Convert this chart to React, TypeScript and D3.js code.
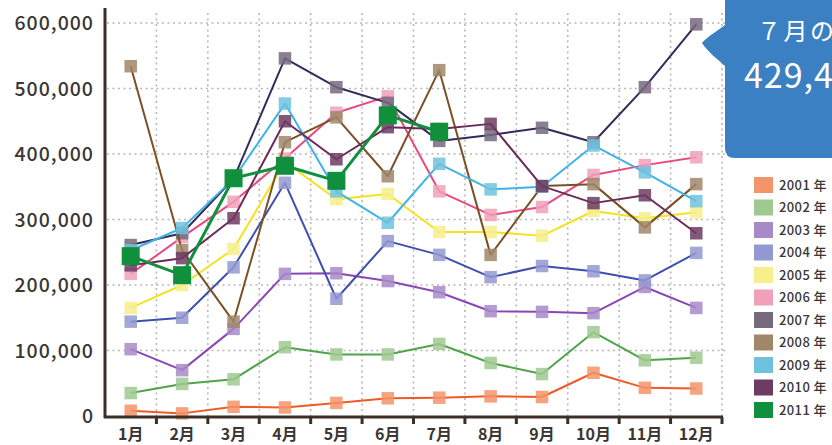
import React from 'react';
import * as d3 from 'd3';

const months = ['1月', '2月', '3月', '4月', '5月', '6月', '7月', '8月', '9月', '10月', '11月', '12月'];
const years = ['2001', '2002', '2003', '2004', '2005', '2006', '2007', '2008', '2009', '2010', '2011'];

const v2001 = [8000, 4000, 14000, 13000, 20000, 27000, 28000, 30000, 29000, 66000, 43000, 42000];
const v2002 = [35000, 49000, 56000, 105000, 94000, 94000, 110000, 81000, 64000, 128000, 85000, 89000];
const v2003 = [102000, 70000, 133000, 217000, 218000, 206000, 189000, 160000, 159000, 157000, 197000, 165000];
const v2004 = [144000, 150000, 227000, 356000, 179000, 267000, 246000, 212000, 229000, 221000, 207000, 249000];
const v2005 = [165000, 200000, 255000, 388000, 331000, 339000, 281000, 281000, 275000, 313000, 302000, 311000];
const v2006 = [217000, 273000, 327000, 393000, 463000, 488000, 343000, 307000, 319000, 368000, 383000, 395000];
const v2007 = [261000, 279000, 362000, 546000, 502000, 478000, 420000, 429000, 440000, 418000, 502000, 598000];
const v2008 = [534000, 253000, 144000, 418000, 456000, 366000, 528000, 246000, 351000, 354000, 288000, 354000];
const v2009 = [253000, 287000, 362000, 477000, 343000, 295000, 385000, 346000, 350000, 413000, 372000, 328000];
const v2010 = [230000, 241000, 302000, 450000, 392000, 441000, 438000, 446000, 351000, 325000, 337000, 279000];
const v2011 = [244000, 215000, 363000, 382000, 359000, 459000, 434000];

const yTicks = [0, 100000, 200000, 300000, 400000, 500000, 600000];
const calloutLines = ['７月の訪日外客数', '429,400人'];

const seriesValues = [v2001, v2002, v2003, v2004, v2005, v2006, v2007, v2008, v2009, v2010, v2011];

// line colour / marker colour per year
const lineColors = ['#f15a24', '#4fa44a', '#8a46b4', '#3d4fb0', '#f5e21c', '#e84a7f', '#342a5a', '#7a5126', '#3fb3e6', '#6b2b5a', '#10903d'];
const markColors = ['#f4946a', '#9fc98f', '#a78bc9', '#9399d0', '#f6ef8c', '#f0a0b8', '#756a7e', '#a0876a', '#6fc2de', '#6d3b62', '#10903d'];

const W = 832;
const H = 445;
const FONT = '"Noto Sans CJK JP", "Noto Sans", sans-serif';

export default function App() {
  const x = d3.scaleBand<string>().domain(months).range([105, 722]).padding(0);
  const y = d3.scaleLinear().domain([0, 600000]).range([416, 23]);
  const cx = (m: string) => (x(m) || 0) + x.bandwidth() / 2;
  const fmt = d3.format(',');

  const line = d3.line<number>()
    .x((_, i) => cx(months[i]))
    .y(d => y(d));

  const bounds = months.map(m => (x(m) || 0) + x.bandwidth());

  return (
    <svg width={W} height={H} style={{ position: 'absolute', left: 0, top: 0, background: '#fff' }}>
      {/* grid */}
      <g stroke="#b8b8b8" strokeWidth={1.6} strokeDasharray="2,3.5">
        {yTicks.filter(t => t > 0).map(t => (
          <line key={t} x1={107} x2={726} y1={y(t)} y2={y(t)} />
        ))}
        {bounds.map((b, i) => (
          <line key={i} x1={b} x2={b} y1={13} y2={416} />
        ))}
      </g>

      {/* y labels */}
      <g fontFamily={FONT} fontSize={19.5} fontWeight={500} fill="#3a3634" textAnchor="end" letterSpacing={1}>
        {yTicks.map(t => (
          <text key={t} x={94} y={y(t)} dy="0.36em">{fmt(t)}</text>
        ))}
      </g>

      {/* series */}
      {seriesValues.map((vals, s) => {
        const big = s === 10;
        const sz = big ? 18 : 12.5;
        return (
          <g key={years[s]}>
            <path d={line(vals) || ''} fill="none" stroke={lineColors[s]} strokeWidth={big ? 3 : 2} strokeLinejoin="round" />
            {vals.map((v, i) => (
              <rect
                key={i}
                x={cx(months[i]) - sz / 2}
                y={y(v) - sz / 2}
                width={sz}
                height={sz}
                fill={markColors[s]}
                fillOpacity={big ? 1 : 0.85}
              />
            ))}
          </g>
        );
      })}

      {/* axes */}
      <g stroke="#3b3029" strokeWidth={3} fill="none">
        <line x1={105} x2={105} y1={8} y2={418} />
        <line x1={104} x2={723} y1={417} y2={417} />
        {bounds.map((b, i) => (
          <line key={i} x1={b} x2={b} y1={417} y2={424} />
        ))}
      </g>

      {/* x labels */}
      <g fontFamily={FONT} fontSize={16} fontWeight={700} fill="#3a3634" textAnchor="middle">
        {months.map(m => (
          <text key={m} x={cx(m)} y={440}>{m}</text>
        ))}
      </g>

      {/* legend */}
      <g fontFamily={FONT} fontSize={13} fontWeight={500} fill="#3a3634" letterSpacing={0.4}>
        {years.map((yr, i) => (
          <g key={yr} transform={`translate(754,${185 + i * 22.5})`}>
            <rect x={0} y={-8} width={19} height={16} fill={markColors[i]} />
            <text x={25} y={0} dy="0.36em">{yr} 年</text>
          </g>
        ))}
      </g>

      {/* callout */}
      <path
        d="M725,-10 L840,-10 L840,158 L735,158 Q725,158 725,148 L725,66 C716,58 708,52 702,43 C708,36 716,32 725,25 Z"
        fill="#3b80c3"
      />
      <g fontFamily={FONT} fill="#fff">
        <text x={757} y={40} fontSize={24} letterSpacing={2.5}>{calloutLines[0]}</text>
        <text x={744} y={88} fontSize={34} letterSpacing={1}>{calloutLines[1]}</text>
      </g>
    </svg>
  );
}
